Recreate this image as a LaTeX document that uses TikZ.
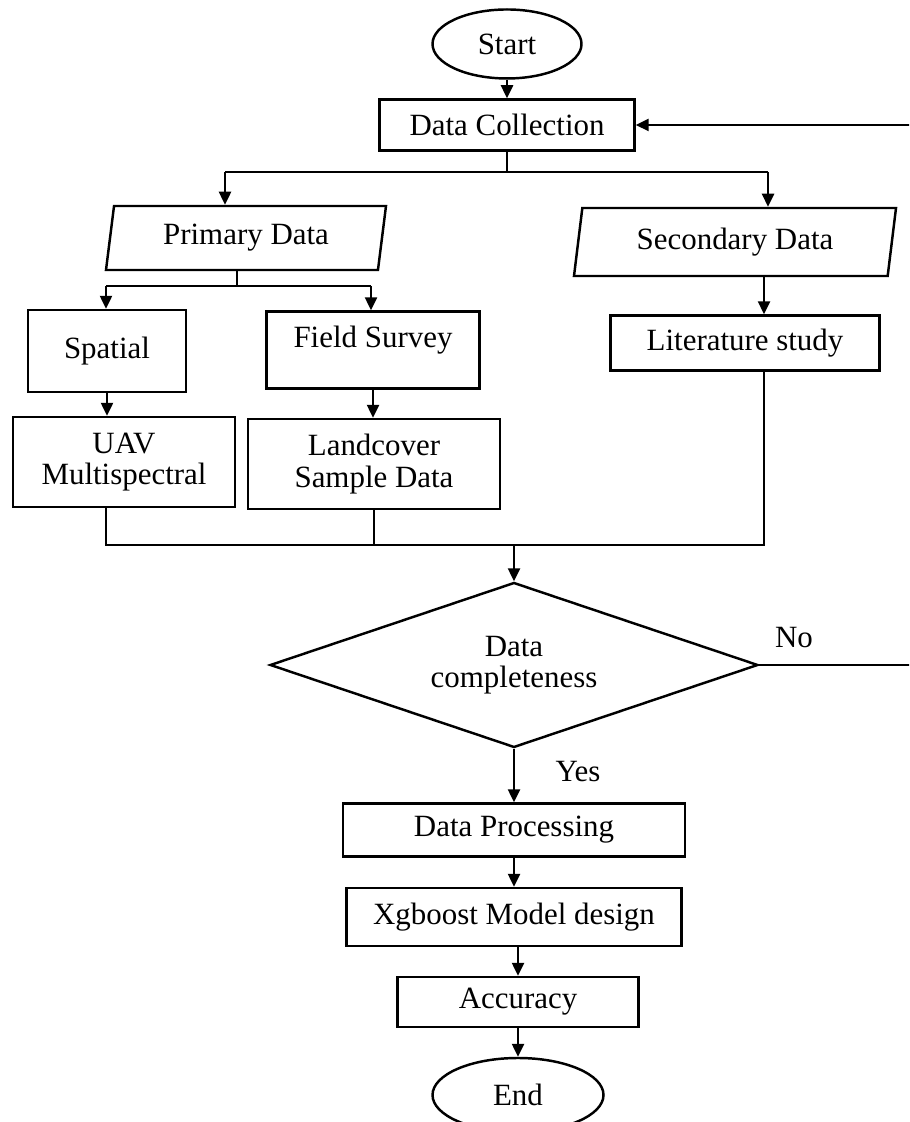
\documentclass[tikz,border=0pt]{standalone}
\usepackage{fontspec}
\setmainfont{Liberation Serif}
\usetikzlibrary{shapes.geometric,arrows.meta}
\tikzset{
	line/.style={line width=1.4pt},
	arr/.style={line width=1.4pt, -{Triangle[length=2.6mm,width=2.4mm]}},
	box/.style={draw, line width=1.4pt, rectangle, inner sep=2pt, align=center},
	term/.style={draw, line width=1.4pt, ellipse, inner sep=0pt},
	io/.style={draw, line width=1.4pt, trapezium, trapezium left angle=73.5, trapezium right angle=106.5, trapezium stretches body, inner sep=0pt},
	ask/.style={draw, line width=1.4pt, diamond, aspect=2.96, inner sep=0pt, align=center}
}

\begin{document}
\begin{tikzpicture}[font=\fontsize{17.6}{18}\selectfont]
			%%%%% START %%%%%
			\path[use as bounding box, clip] (0, 0) rectangle (18.18, 22.44);
			
			\node[term, minimum width=2.98cm, minimum height=1.38cm] (start) at (10.14, 21.56) {Start};
			\node[box, minimum width=5.1cm, minimum height=1.02cm] (collect) at (10.14, 19.94) {Data Collection};
			
			\node[io, minimum width=5.6cm, minimum height=1.28cm] (primary) at (4.92, 17.68) {Primary Data};
			\node[io, minimum width=6.44cm, minimum height=1.36cm] (secondary) at (14.70, 17.60) {Secondary Data};
			
			\node[box, minimum width=3.16cm, minimum height=1.64cm] (spatial) at (2.14, 15.42) {Spatial};
			\node[box, minimum width=4.26cm, minimum height=1.54cm, text depth=0.52cm] (survey) at (7.46, 15.44) {Field Survey};
			\node[box, minimum width=5.38cm, minimum height=1.10cm] (litstudy) at (14.90, 15.58) {Literature study};
			
			\node[box, minimum width=4.44cm, minimum height=1.80cm] (uav) at (2.48, 13.20) {UAV\\Multispectral};
			\node[box, minimum width=5.04cm, minimum height=1.80cm] (sample) at (7.48, 13.16) {Landcover\\Sample Data};
			
			\node[ask, minimum width=9.76cm, minimum height=3.30cm] (complete) at (10.28, 9.14) {Data\\completeness};
			\node (no) at (15.88, 9.68) {No};
			\node (yes) at (11.56, 7.00) {Yes};
			
			\node[box, minimum width=6.84cm, minimum height=1.06cm] (process) at (10.28, 5.84) {Data Processing};
			\node[box, minimum width=6.70cm, minimum height=1.16cm] (model) at (10.28, 4.10) {Xgboost Model design};
			\node[box, minimum width=4.82cm, minimum height=1.00cm] (accuracy) at (10.36, 2.40) {Accuracy};
			\node[term, minimum width=3.42cm, minimum height=1.48cm] (end) at (10.36, 0.54) {End};
			
			\coordinate (splitL) at (4.5, 19.0);
			\coordinate (splitR) at (15.36, 19.0);
			\coordinate (primL) at (2.12, 16.72);
			\coordinate (primM) at (4.74, 16.72);
			\coordinate (primR) at (7.42, 16.72);
			\coordinate (secX) at (15.28, 16.5);
			\coordinate (joinL) at (2.12, 11.54);
			\coordinate (joinM) at (10.28, 11.54);
			\coordinate (joinR) at (15.28, 11.54);
			\coordinate (back) at (18.6, 9.14);
			
			\draw[arr] (start) -- (collect);
			\draw[line] (collect.south) -- (collect.south |- splitL);
			\draw[line] (splitL) -- (splitR);
			\draw[arr] (splitL) -- (splitL |- primary.north);
			\draw[arr] (splitR) -- (splitR |- secondary.north);
			
			\draw[line] (primM |- primary.south) -- (primM);
			\draw[line] (primL) -- (primR);
			\draw[arr] (primL) -- (primL |- spatial.north);
			\draw[arr] (primR) -- (primR |- survey.north);
			\draw[arr] (secX |- secondary.south) -- (secX |- litstudy.north);
			
			\draw[arr] (spatial.south) -- (spatial.south |- uav.north);
			\draw[arr] (survey.south) -- (survey.south |- sample.north);
			
			\draw[line] (joinL |- uav.south) -- (joinL) -- (joinR) -- (joinR |- litstudy.south);
			\draw[line] (sample.south) -- (sample.south |- joinL);
			\draw[arr] (joinM) -- (complete.north);
			
			\draw[arr] (complete.east) -- (back) |- (collect.east);
			\draw[arr] (complete.south) -- (process.north);
			\draw[arr] (process) -- (model);
			\draw[arr] (accuracy.north |- model.south) -- (accuracy.north);
			\draw[arr] (accuracy) -- (end);
			%%%%% END %%%%%
\end{tikzpicture}
\end{document}
